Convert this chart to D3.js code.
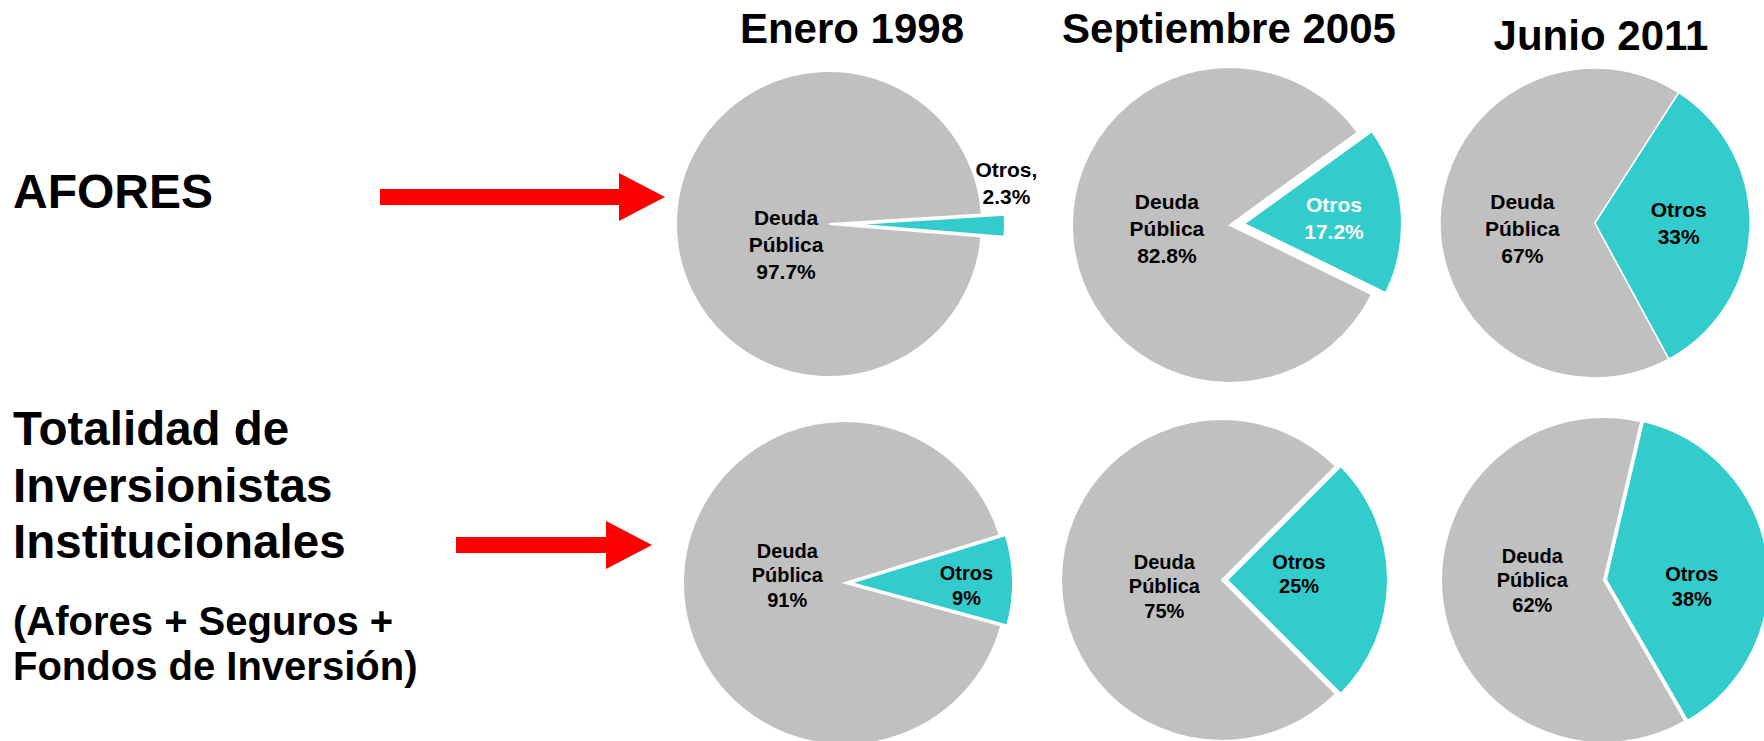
<!DOCTYPE html>
<html>
<head>
<meta charset="utf-8">
<script src="https://cdn.jsdelivr.net/npm/d3@7"></script>
<style>
  body { margin: 0; background: #fff; }
  text { font-family: "Liberation Sans", Arial, sans-serif; font-weight: bold; }
</style>
</head>
<body>
<script>
var width = 1764;
var height = 741;

// data
var periods = ["Enero 1998", "Septiembre 2005", "Junio 2011"];
var categories = ["Deuda Pública", "Otros"];
var aforesDeuda = [97.7, 82.8, 67];
var aforesOtros = [2.3, 17.2, 33];
var totalDeuda = [91, 75, 62];
var totalOtros = [9, 25, 38];
var rowLabels = [["AFORES"], ["Totalidad de", "Inversionistas", "Institucionales"]];
var rowNotes = ["", "(Afores + Seguros +|Fondos de Inversión)"];

// layout (one entry per pie: top row then bottom row)
var pieCenters = [[829, 224], [1230, 225], [1595, 223], [845, 583], [1222, 580], [1604, 580]];
var pieRadius = [153, 158, 155, 162, 161, 163];
var otrosEnd = [94.7, 116, 151.5, 105.2, 135, 150];   // degrees, where the Otros slice ends
var explode = [23, 14, 0, 6, 5, 2];
var borderW = [2, 2, 1.5, 2, 2, 2];
// label anchors, [fraction of radius, angle in degrees] for Deuda and Otros
var labelPolar = [
    [[0.31, 245], [1.19, 77]],
    [[0.40, 267], [0.66, 86]],
    [[0.47, 266], [0.54, 90]],
    [[0.36, 278], [0.75, 91]],
    [[0.36, 264], [0.48, 85.5]],
    [[0.44, 270], [0.54, 94]]
];
var otrosTextColor = ["#000", "#fff", "#000", "#000", "#000", "#000"];
var colors = d3.scaleOrdinal().domain(categories).range(["#c0c0c0", "#33cccc"]);

var svgContainer = d3.select("body")
    .append("svg")
    .attr("width", width)
    .attr("height", height);

// column titles
var titleX = [852, 1229, 1601];
var titleY = [43, 43, 50];
svgContainer.selectAll("text.title")
    .data(periods)
    .enter().append("text")
    .attr("class", "title")
    .attr("x", function(d, i) { return titleX[i]; })
    .attr("y", function(d, i) { return titleY[i]; })
    .attr("text-anchor", "middle")
    .attr("font-size", 42)
    .text(function(d) { return d; });

// row labels on the left
svgContainer.append("text")
    .attr("x", 13).attr("y", 208)
    .attr("font-size", 48)
    .text(rowLabels[0][0]);

rowLabels[1].forEach(function(line, i) {
    svgContainer.append("text")
        .attr("x", 13).attr("y", 445 + i * 56.5)
        .attr("font-size", 47.5)
        .text(line);
});
rowNotes[1].split("|").forEach(function(line, i) {
    svgContainer.append("text")
        .attr("x", 13).attr("y", 635 + i * 45)
        .attr("font-size", 40)
        .text(line);
});

// red arrows
function drawArrow(x0, x1, tipX, yc, shaft, head) {
    var p = d3.path();
    p.moveTo(x0, yc - shaft / 2);
    p.lineTo(x1, yc - shaft / 2);
    p.lineTo(x1, yc - head / 2);
    p.lineTo(tipX, yc);
    p.lineTo(x1, yc + head / 2);
    p.lineTo(x1, yc + shaft / 2);
    p.lineTo(x0, yc + shaft / 2);
    p.closePath();
    svgContainer.append("path").attr("d", p.toString()).attr("fill", "#ff0000");
}
drawArrow(380, 619, 665, 197, 16, 48);
drawArrow(456, 606, 652, 545, 16, 48);

// pies
var rows = [[aforesDeuda, aforesOtros], [totalDeuda, totalOtros]];
var rad = Math.PI / 180;

rows.forEach(function(row, r) {
    periods.forEach(function(period, c) {
        var k = r * 3 + c;
        var values = [row[0][c], row[1][c]];
        var radius = pieRadius[k];
        var start = otrosEnd[k] * rad;

        var pie = d3.pie().sort(null).startAngle(start).endAngle(start + 2 * Math.PI);
        var arcs = pie(values);
        var arc = d3.arc().innerRadius(0).outerRadius(radius);

        var g = svgContainer.append("g")
            .attr("transform", "translate(" + pieCenters[k][0] + "," + pieCenters[k][1] + ")");

        g.selectAll("path")
            .data(arcs)
            .enter().append("path")
            .attr("d", arc)
            .attr("fill", function(d, i) { return colors(categories[i]); })
            .attr("stroke", "#fff")
            .attr("stroke-width", borderW[k])
            .attr("stroke-linejoin", "miter")
            .attr("transform", function(d, i) {
                if (i === 0) return null;
                var mid = (d.startAngle + d.endAngle) / 2;
                var off = d3.pointRadial(mid, explode[k]);
                return "translate(" + off[0] + "," + off[1] + ")";
            });

        // slice labels
        var fs = r === 0 ? 21 : 20;
        var lh = r === 0 ? 27 : 24.5;
        arcs.forEach(function(d, i) {
            var lines;
            if (i === 0) {
                lines = ["Deuda", "Pública", values[0] + "%"];
            } else if (labelPolar[k][1][0] > 1) {
                lines = ["Otros,", values[1] + "%"];
            } else {
                lines = ["Otros", values[1] + "%"];
            }
            var pos = d3.pointRadial(labelPolar[k][i][1] * rad, labelPolar[k][i][0] * radius);
            var y0 = pos[1] - (lines.length - 1) * lh / 2 + 0.36 * fs;
            lines.forEach(function(line, j) {
                g.append("text")
                    .attr("x", pos[0])
                    .attr("y", y0 + j * lh)
                    .attr("text-anchor", "middle")
                    .attr("font-size", fs)
                    .attr("fill", i === 0 ? "#000" : otrosTextColor[k])
                    .text(line);
            });
        });
    });
});
</script>
</body>
</html>
